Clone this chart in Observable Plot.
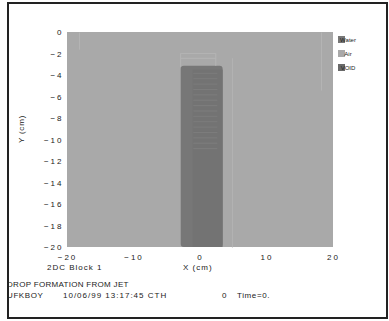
<!DOCTYPE html>
<html>
<head>
<meta charset="utf-8">
<script src="https://cdn.jsdelivr.net/npm/d3@7"></script>
<script src="https://cdn.jsdelivr.net/npm/@observablehq/plot@0.6"></script>
<style>
  html, body { margin: 0; padding: 0; background: #fff; }
  svg { display: block; }
</style>
</head>
<body>
<div id="chart"></div>
<script>
// ---- data ----
const xTicks = [-20, -10, 0, 10, 20];
const xTickLabels = ["−20", "−10", "0", "10", "20"];
const yTicks = [0, -2, -4, -6, -8, -10, -12, -14, -16, -18, -20];
const yTickLabels = ["0", "−2", "−4", "−6", "−8", "−10", "−12", "−14", "−16", "−18", "−20"];
const materials = ["Water", "Air", "VOID"];
const materialColors = ["#777777", "#a9a9a9", "#696969"];

// regions (cm)
const airRegion = [{x1: -20, x2: 20, y1: -20, y2: 0, material: "Air"}];
const jetRegion = [{x1: -2.9, x2: 3.4, y1: -20, y2: -3.15, material: "Water"}];
const innerJet = [{x1: -1.1, x2: 3.4, y1: -20, y2: -3.5}];
// faint stripes inside the jet
const stripeY = [-3.8, -4.3, -4.8, -5.3, -5.8, -6.3, -6.8, -7.3, -7.8, -8.3, -8.8, -9.3, -9.8, -10.3, -10.8];
const stripeX1 = -1.0, stripeX2 = 2.6;
// faint mesh-block lines
const meshLines = [
  {x1: -3.0, x2: 2.3, y1: -1.95, y2: -1.95},
  {x1: -3.0, x2: 2.3, y1: -2.4, y2: -2.4},
  {x1: 4.8, x2: 4.8, y1: -2.4, y2: -20},
  {x1: -3.0, x2: -3.0, y1: -1.95, y2: -3.2},
  {x1: 2.3, x2: 2.3, y1: -1.95, y2: -3.1},
  {x1: -18.2, x2: -18.2, y1: 0, y2: -1.6},
  {x1: 18.2, x2: 18.2, y1: 0, y2: -5.4}
];

const W = 389, H = 321;
const colorOf = m => materialColors[materials.indexOf(m)];

const plot = Plot.plot({
  width: W,
  height: H,
  marginLeft: 67,
  marginRight: 56,
  marginTop: 32,
  marginBottom: 74,
  style: {background: "#fff", fontFamily: "'Liberation Sans', Arial, sans-serif", overflow: "visible"},
  x: {domain: [-20, 20]},
  y: {domain: [-20, 0]},
  marks: [
    Plot.rect(airRegion, {x1: "x1", x2: "x2", y1: "y1", y2: "y2", fill: d => colorOf(d.material)}),
    Plot.rect(jetRegion, {x1: "x1", x2: "x2", y1: "y1", y2: "y2", fill: d => colorOf(d.material), rx: 3}),
    Plot.rect(innerJet, {x1: "x1", x2: "x2", y1: "y1", y2: "y2", fill: "#737373"}),
    Plot.ruleY(stripeY, {x1: stripeX1, x2: stripeX2, stroke: "#7d7d7d", strokeWidth: 1}),
    Plot.link(meshLines, {x1: "x1", x2: "x2", y1: "y1", y2: "y2", stroke: "#b4b4b4", strokeWidth: 1}),
    Plot.axisX({ticks: xTicks, tickSize: 0, tickPadding: 7, label: null,
      tickFormat: d => xTickLabels[xTicks.indexOf(d)], fontSize: 8}),
    Plot.axisY({ticks: yTicks, tickSize: 0, tickPadding: 4, label: null,
      tickFormat: d => yTickLabels[yTicks.indexOf(d)], fontSize: 8})
  ]
});

document.getElementById("chart").appendChild(plot);

// spaced-out tick labels, as in the reference
d3.select(plot).selectAll('g[aria-label$="tick label"] text')
  .style("letter-spacing", "2px").attr("fill", "#222");

// ---- annotations, legend and frame ----
const svg = d3.select(plot);
const font = "'Liberation Sans', Arial, sans-serif";

// frame
svg.append("rect")
  .attr("x", 8).attr("y", 3).attr("width", 379).attr("height", 315)
  .attr("fill", "none").attr("stroke", "#222").attr("stroke-width", 2);

// legend
const legend = svg.append("g");
materials.forEach((m, i) => {
  const y = 36 + i * 14;
  legend.append("rect").attr("x", 338).attr("y", y).attr("width", 7).attr("height", 7)
    .attr("fill", materialColors[i]);
  legend.append("text").attr("x", 348).attr("y", y + 5.5)
    .style("font-family", font).style("font-size", "6px").attr("fill", "#222").text(m);
});

// axis titles & captions
const txt = (x, y, s, opts = {}) => {
  const t = svg.append("text").attr("x", x).attr("y", y)
    .attr("font-family", font).attr("font-size", opts.size || 8)
    .attr("fill", "#222")
    .style("letter-spacing", (opts.ls ?? 0.6) + "px")
    .attr("text-anchor", opts.anchor || "start").text(s);
  if (opts.rotate) t.attr("transform", `rotate(-90 ${x} ${y})`);
  return t;
};
txt(24, 129, "Y (cm)", {anchor: "middle", rotate: true, ls: 0.8});
txt(183, 270, "X (cm)", {ls: 1});
txt(47, 270, "2DC Block 1", {ls: 1});
txt(7, 287, "DROP FORMATION FROM JET", {ls: 0.3});
txt(7, 298, "UFKBOY", {ls: 0.6});
txt(63, 298, "10/06/99 13:17:45 CTH", {ls: 1});
txt(222, 298, "0", {ls: 0.6});
txt(237, 298, "Time=0.", {ls: 0.6});
</script>
</body>
</html>
